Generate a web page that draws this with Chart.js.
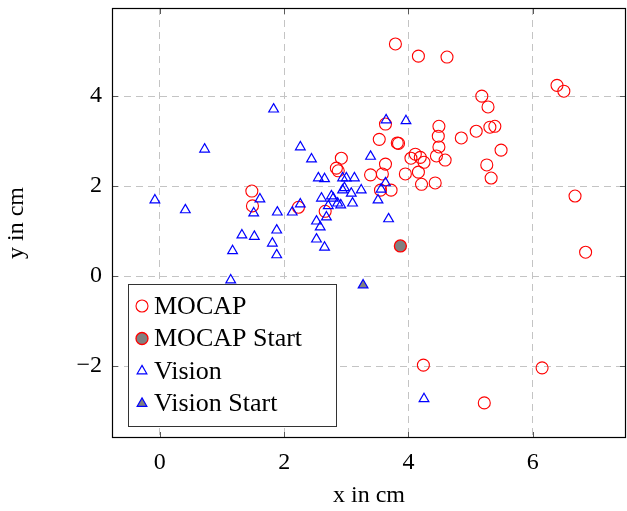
<!DOCTYPE html>
<html>
<head>
<meta charset="utf-8">
<script src="https://cdn.jsdelivr.net/npm/chart.js@4.4.1/dist/chart.umd.min.js"></script>
<style>
html, body { margin: 0; padding: 0; background: #fff; }
</style>
</head>
<body>
<canvas id="chart" width="627" height="511"></canvas>
<script>
// positions in cm
var mocapX = [3.79, 4.16, 4.62, 6.39, 6.50, 5.18, 5.28, 4.49, 3.63, 5.31, 5.39, 4.48, 4.85, 5.09, 3.53, 3.82,
              3.84, 4.49, 5.49, 4.04, 4.11, 4.19, 4.25, 4.45, 4.59, 3.63, 5.26, 3.39, 3.58, 3.95, 4.16, 5.33,
              4.21, 4.43, 3.55, 3.72, 6.68, 2.92, 2.84, 2.87, 1.48, 1.49, 2.23, 2.66, 6.85, 4.24, 6.15, 5.22];
var mocapY = [5.16, 4.89, 4.87, 4.24, 4.11, 4.00, 3.76, 3.33, 3.38, 3.31, 3.33, 3.11, 3.07, 3.22, 3.04, 2.96,
              2.95, 2.87, 2.80, 2.62, 2.71, 2.64, 2.53, 2.67, 2.58, 2.49, 2.47, 2.25, 2.27, 2.27, 2.31, 2.18,
              2.04, 2.07, 1.91, 1.91, 1.78, 2.62, 2.40, 2.34, 1.89, 1.56, 1.53, 1.44, 0.53, -1.98, -2.04, -2.82];
var mocapStartX = [3.87];
var mocapStartY = [0.67];

var visionX = [1.83, 0.72, 2.26, 2.44, 3.39, 3.64, 3.96, -0.08, 0.41, 1.61, 1.51, 1.89, 2.13, 2.26, 2.55, 2.65,
               2.94, 3.00, 3.13, 2.60, 2.76, 2.79, 2.94, 2.97, 3.08, 2.86, 2.91, 2.71, 3.10, 3.24, 2.68, 2.52,
               2.58, 2.52, 2.65, 1.88, 1.81, 1.88, 1.32, 1.52, 1.17, 1.14, 3.63, 3.56, 3.51, 3.68, 4.25];
var visionY = [3.71, 2.82, 2.87, 2.60, 2.66, 3.47, 3.45, 1.69, 1.47, 1.71, 1.40, 1.42, 1.42, 1.60, 2.18, 2.16,
               2.18, 2.18, 2.18, 1.73, 1.78, 1.73, 1.91, 1.96, 1.84, 1.62, 1.58, 1.56, 1.62, 1.91, 1.31, 1.22,
               1.09, 0.82, 0.64, 1.02, 0.73, 0.47, 0.91, 0.88, 0.56, -0.09, 2.07, 1.93, 1.69, 1.27, -2.73];
var visionStartX = [3.27];
var visionStartY = [-0.20];

var seriesNames = ['MOCAP', 'MOCAP Start', 'Vision', 'Vision Start'];

var serif = 'Liberation Serif';

function toPoints(xs, ys) {
    return xs.map(function (x, i) { return { x: x, y: ys[i] }; });
}

function fmt(v) {
    return String(v).replace('-', '\u2212');
}

// frame around the plot area plus small inward tick marks (pgfplots style)
var framePlugin = {
    id: 'frame',
    afterDraw: function (chart) {
        var ctx = chart.ctx, a = chart.chartArea;
        var xs = chart.scales.x, ys = chart.scales.y;
        ctx.save();
        ctx.strokeStyle = '#5a5a5a';
        ctx.lineWidth = 1;
        xs.ticks.forEach(function (t) {
            var px = Math.round(xs.getPixelForValue(t.value)) + 0.5;
            ctx.beginPath();
            ctx.moveTo(px, a.bottom); ctx.lineTo(px, a.bottom - 6);
            ctx.moveTo(px, a.top); ctx.lineTo(px, a.top + 6);
            ctx.stroke();
        });
        ys.ticks.forEach(function (t) {
            var py = Math.round(ys.getPixelForValue(t.value)) + 0.5;
            ctx.beginPath();
            ctx.moveTo(a.left, py); ctx.lineTo(a.left + 6, py);
            ctx.moveTo(a.right, py); ctx.lineTo(a.right - 6, py);
            ctx.stroke();
        });
        ctx.strokeStyle = '#000';
        ctx.lineWidth = 1.2;
        ctx.strokeRect(a.left + 0.5, a.top + 0.5, a.right - a.left - 1, a.bottom - a.top - 1);
        ctx.restore();
    }
};

// legend box sitting inside the plot, bottom left
var boxLegend = {
    id: 'boxLegend',
    afterDatasetsDraw: function (chart) {
        var ctx = chart.ctx, a = chart.chartArea;
        var w = 208, h = 142;
        var bx = a.left + 16, by = a.bottom - 12 - h;
        ctx.save();
        ctx.fillStyle = '#fff';
        ctx.fillRect(bx, by, w, h);
        ctx.strokeStyle = '#333';
        ctx.lineWidth = 1;
        ctx.strokeRect(bx + 0.5, by + 0.5, w, h);
        ctx.font = '26px "' + serif + '"';
        ctx.textBaseline = 'middle';
        chart.data.datasets.forEach(function (ds, i) {
            var cy = by + 22 + i * 32.5;
            ctx.fillStyle = ds.backgroundColor;
            ctx.strokeStyle = ds.borderColor;
            ctx.lineWidth = ds.borderWidth;
            Chart.helpers.drawPoint(ctx, {
                pointStyle: ds.pointStyle,
                radius: ds.pointRadius,
                borderWidth: ds.borderWidth,
                rotation: 0
            }, bx + 14, cy);
            ctx.fillStyle = '#000';
            ctx.fillText(ds.label, bx + 26, cy + 1);
        });
        ctx.restore();
    }
};

new Chart(document.getElementById('chart'), {
    type: 'scatter',
    data: {
        datasets: [
            {
                label: seriesNames[0], data: toPoints(mocapX, mocapY), order: 4,
                pointStyle: 'circle', pointRadius: 6, borderWidth: 1.1,
                borderColor: '#ff0000', backgroundColor: 'rgba(255,255,255,0)'
            },
            {
                label: seriesNames[1], data: toPoints(mocapStartX, mocapStartY), order: 3,
                pointStyle: 'circle', pointRadius: 6, borderWidth: 1.3,
                borderColor: '#ff0000', backgroundColor: '#808080'
            },
            {
                label: seriesNames[2], data: toPoints(visionX, visionY), order: 2,
                pointStyle: 'triangle', pointRadius: 5.6, borderWidth: 1.2,
                borderColor: '#0000ff', backgroundColor: 'rgba(255,255,255,0)'
            },
            {
                label: seriesNames[3], data: toPoints(visionStartX, visionStartY), order: 1,
                pointStyle: 'triangle', pointRadius: 5.6, borderWidth: 1.2,
                borderColor: '#0000ff', backgroundColor: '#808080'
            }
        ]
    },
    options: {
        responsive: false,
        animation: false,
        devicePixelRatio: 1,
        layout: { autoPadding: false, padding: { top: 8, right: 1, left: 0, bottom: 0 } },
        plugins: {
            legend: { display: false },
            tooltip: { enabled: false }
        },
        scales: {
            x: {
                type: 'linear',
                min: -0.77,
                max: 7.5,
                afterFit: function (s) {
                    s.height = 73;
                    s.paddingLeft = 0; s.paddingRight = 0;
                },
                border: { display: false, dash: [7, 5] },
                grid: { color: '#c4c4c4', lineWidth: 1, drawTicks: false },
                ticks: {
                    stepSize: 2, includeBounds: false, padding: 10,
                    color: '#000', font: { family: serif, size: 24 },
                    callback: function (v) { return fmt(v); }
                },
                title: {
                    display: true, text: 'x in cm', color: '#000',
                    font: { family: serif, size: 24 }, padding: { top: 0, bottom: 1 }
                }
            },
            y: {
                type: 'linear',
                min: -3.6,
                max: 5.96,
                afterFit: function (s) {
                    s.width = 112;
                    s.paddingTop = 0; s.paddingBottom = 0;
                },
                border: { display: false, dash: [7, 5] },
                grid: { color: '#c4c4c4', lineWidth: 1, drawTicks: false },
                ticks: {
                    stepSize: 2, includeBounds: false, padding: 10,
                    color: '#000', font: { family: serif, size: 24 },
                    callback: function (v) { return fmt(v); }
                },
                title: {
                    display: true, text: 'y in cm', color: '#000',
                    font: { family: serif, size: 24 }, padding: { top: 2, bottom: 0 }
                }
            }
        }
    },
    plugins: [framePlugin, boxLegend]
});
</script>
</body>
</html>
